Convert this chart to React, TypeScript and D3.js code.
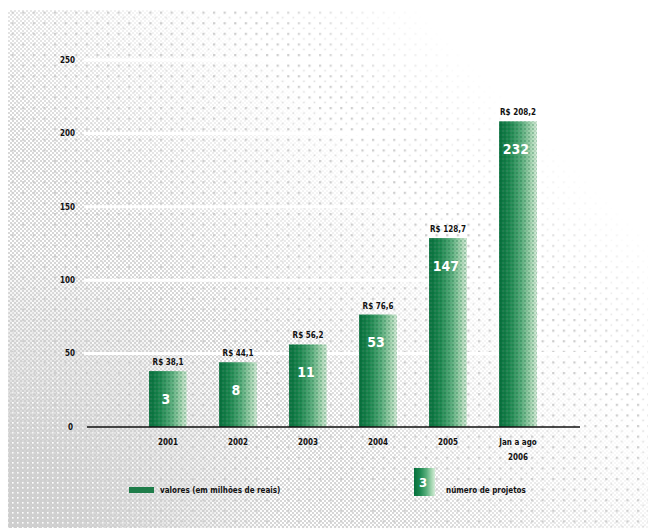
import React from "react";
import * as d3 from "d3";

const categories = ["2001", "2002", "2003", "2004", "2005", "Jan a ago|2006"];
const valores = [38.1, 44.1, 56.2, 76.6, 128.7, 208.2];
const valorLabels = ["R$ 38,1", "R$ 44,1", "R$ 56,2", "R$ 76,6", "R$ 128,7", "R$ 208,2"];
const projetos = [3, 8, 11, 53, 147, 232];
const yTicks = [0, 50, 100, 150, 200, 250];
const legendLabels = ["valores (em milhões de reais)", "número de projetos"];

const W = 648, H = 528;
const FONT = "'DejaVu Sans Condensed', 'DejaVu Sans', sans-serif";
const GRAY = "#cdcdcd";

export default function App() {
  const x = d3.scaleBand<string>().domain(categories).range([133, 553]).paddingInner(0.46).paddingOuter(0.23);
  const y = d3.scaleLinear().domain([0, 250]).range([427, 60]);
  const bw = x.bandwidth();

  return (
    <svg width={W} height={H} style={{ display: "block", position: "absolute", left: 0, top: 0 }}>
      <defs>
        <pattern id="sparse" width="10.6" height="10.6" patternUnits="userSpaceOnUse">
          <rect x="1" y="1" width="2.2" height="2.2" fill={GRAY} />
          <rect x="6.3" y="6.3" width="1.6" height="1.6" fill={GRAY} opacity="0.7" />
        </pattern>
        <pattern id="checker" width="4" height="4" patternUnits="userSpaceOnUse">
          <rect x="0" y="0" width="2" height="2" fill={GRAY} />
          <rect x="2" y="2" width="2" height="2" fill={GRAY} />
        </pattern>
        <pattern id="solidHoles" width="5" height="5" patternUnits="userSpaceOnUse">
          <rect x="0" y="0" width="5" height="5" fill={GRAY} />
          <rect x="2" y="2" width="1.6" height="1.6" fill="#fff" />
        </pattern>
        <linearGradient id="fadeSparse" gradientUnits="userSpaceOnUse" x1="120" y1="-120" x2="205" y2="-205">
          <stop offset="0" stopColor="#fff" stopOpacity="1" />
          <stop offset="1" stopColor="#fff" stopOpacity="0" />
        </linearGradient>
        <linearGradient id="fadeChecker" gradientUnits="userSpaceOnUse" x1="-60" y1="60" x2="110" y2="-110">
          <stop offset="0" stopColor="#fff" stopOpacity="0.8" />
          <stop offset="1" stopColor="#fff" stopOpacity="0" />
        </linearGradient>
        <radialGradient id="fadeSolid" gradientUnits="userSpaceOnUse" cx="0" cy="528" r="280">
          <stop offset="0" stopColor="#fff" stopOpacity="1" />
          <stop offset="0.3" stopColor="#fff" stopOpacity="0.85" />
          <stop offset="1" stopColor="#fff" stopOpacity="0" />
        </radialGradient>
        <mask id="maskSparse">
          <rect x="8" y="10" width={W - 8} height={H - 10} fill="url(#fadeSparse)" />
        </mask>
        <mask id="maskChecker">
          <rect x="8" y="10" width={W - 8} height={H - 10} fill="url(#fadeChecker)" />
        </mask>
        <mask id="maskSolid">
          <rect x="8" y="10" width={W - 8} height={H - 10} fill="url(#fadeSolid)" />
        </mask>
        <linearGradient id="barGrad" x1="0" y1="0" x2="1" y2="0">
          <stop offset="0" stopColor="#05703c" />
          <stop offset="0.3" stopColor="#1f8a52" />
          <stop offset="0.6" stopColor="#5bb07e" />
          <stop offset="0.85" stopColor="#a9d8b4" />
          <stop offset="1" stopColor="#d4ecd8" />
        </linearGradient>
        <pattern id="barDots" width="4" height="4" patternUnits="userSpaceOnUse">
          <rect x="0" y="0" width="2" height="2" fill="#0b5a33" opacity="0.25" />
          <rect x="2" y="2" width="2" height="2" fill="#7a8a80" opacity="0.2" />
        </pattern>
      </defs>

      <rect x="0" y="0" width={W} height={H} fill="#fff" />
      <rect x="0" y="0" width={W} height={H} fill="url(#sparse)" mask="url(#maskSparse)" />
      <rect x="0" y="0" width={W} height={H} fill="url(#checker)" mask="url(#maskChecker)" />
      <rect x="0" y="0" width={W} height={H} fill="url(#solidHoles)" mask="url(#maskSolid)" />

      {/* white gridlines */}
      {yTicks.slice(1).map((t) => (
        <line key={t} x1={84} x2={600} y1={y(t)} y2={y(t)} stroke="#fff" strokeWidth={3} />
      ))}

      {/* y tick labels */}
      {yTicks.map((t) => (
        <text key={t} x={t === 0 ? 73 : 75} y={y(t)} dy="0.35em" textAnchor="end" fontFamily={FONT} fontWeight="bold" fontSize={8} fill="#111">
          {t}
        </text>
      ))}

      {/* bars */}
      {categories.map((c, i) => {
        const bx = x(c)!;
        const top = y(valores[i]);
        return (
          <g key={c}>
            <rect x={bx} y={top} width={bw} height={y(0) - top} fill="url(#barGrad)" />
            <rect x={bx} y={top} width={bw} height={y(0) - top} fill="url(#barDots)" />
            <text x={bx + bw / 2} y={top - 6} textAnchor="middle" fontFamily={FONT} fontWeight="bold" fontSize={8} fill="#111">
              {valorLabels[i]}
            </text>
            <text x={bx + bw / 2 - 2} y={top + 28} dy="0.35em" textAnchor="middle" fontFamily={FONT} fontWeight="bold" fontSize={14} fill="#fff">
              {projetos[i]}
            </text>
            {c.split("|").map((line, k) => (
              <text key={k} x={bx + bw / 2} y={442 + k * 15} dy="0.35em" textAnchor="middle" fontFamily={FONT} fontWeight="bold" fontSize={8} fill="#111">
                {line}
              </text>
            ))}
          </g>
        );
      })}

      {/* baseline axis */}
      <line x1={87} x2={580} y1={y(0)} y2={y(0)} stroke="#111" strokeWidth={1.5} />

      {/* legend */}
      <rect x={129} y={487} width={25} height={6} fill="#1f7d4a" />
      <text x={160} y={490} dy="0.35em" fontFamily={FONT} fontWeight="bold" fontSize={8} fill="#111">
        {legendLabels[0]}
      </text>
      <rect x={414} y={468} width={21} height={28} fill="url(#barGrad)" />
      <text x={423} y={482} dy="0.35em" textAnchor="middle" fontFamily={FONT} fontWeight="bold" fontSize={13} fill="#fff">
        {projetos[0]}
      </text>
      <text x={446} y={490} dy="0.35em" fontFamily={FONT} fontWeight="bold" fontSize={8} fill="#111">
        {legendLabels[1]}
      </text>
    </svg>
  );
}
